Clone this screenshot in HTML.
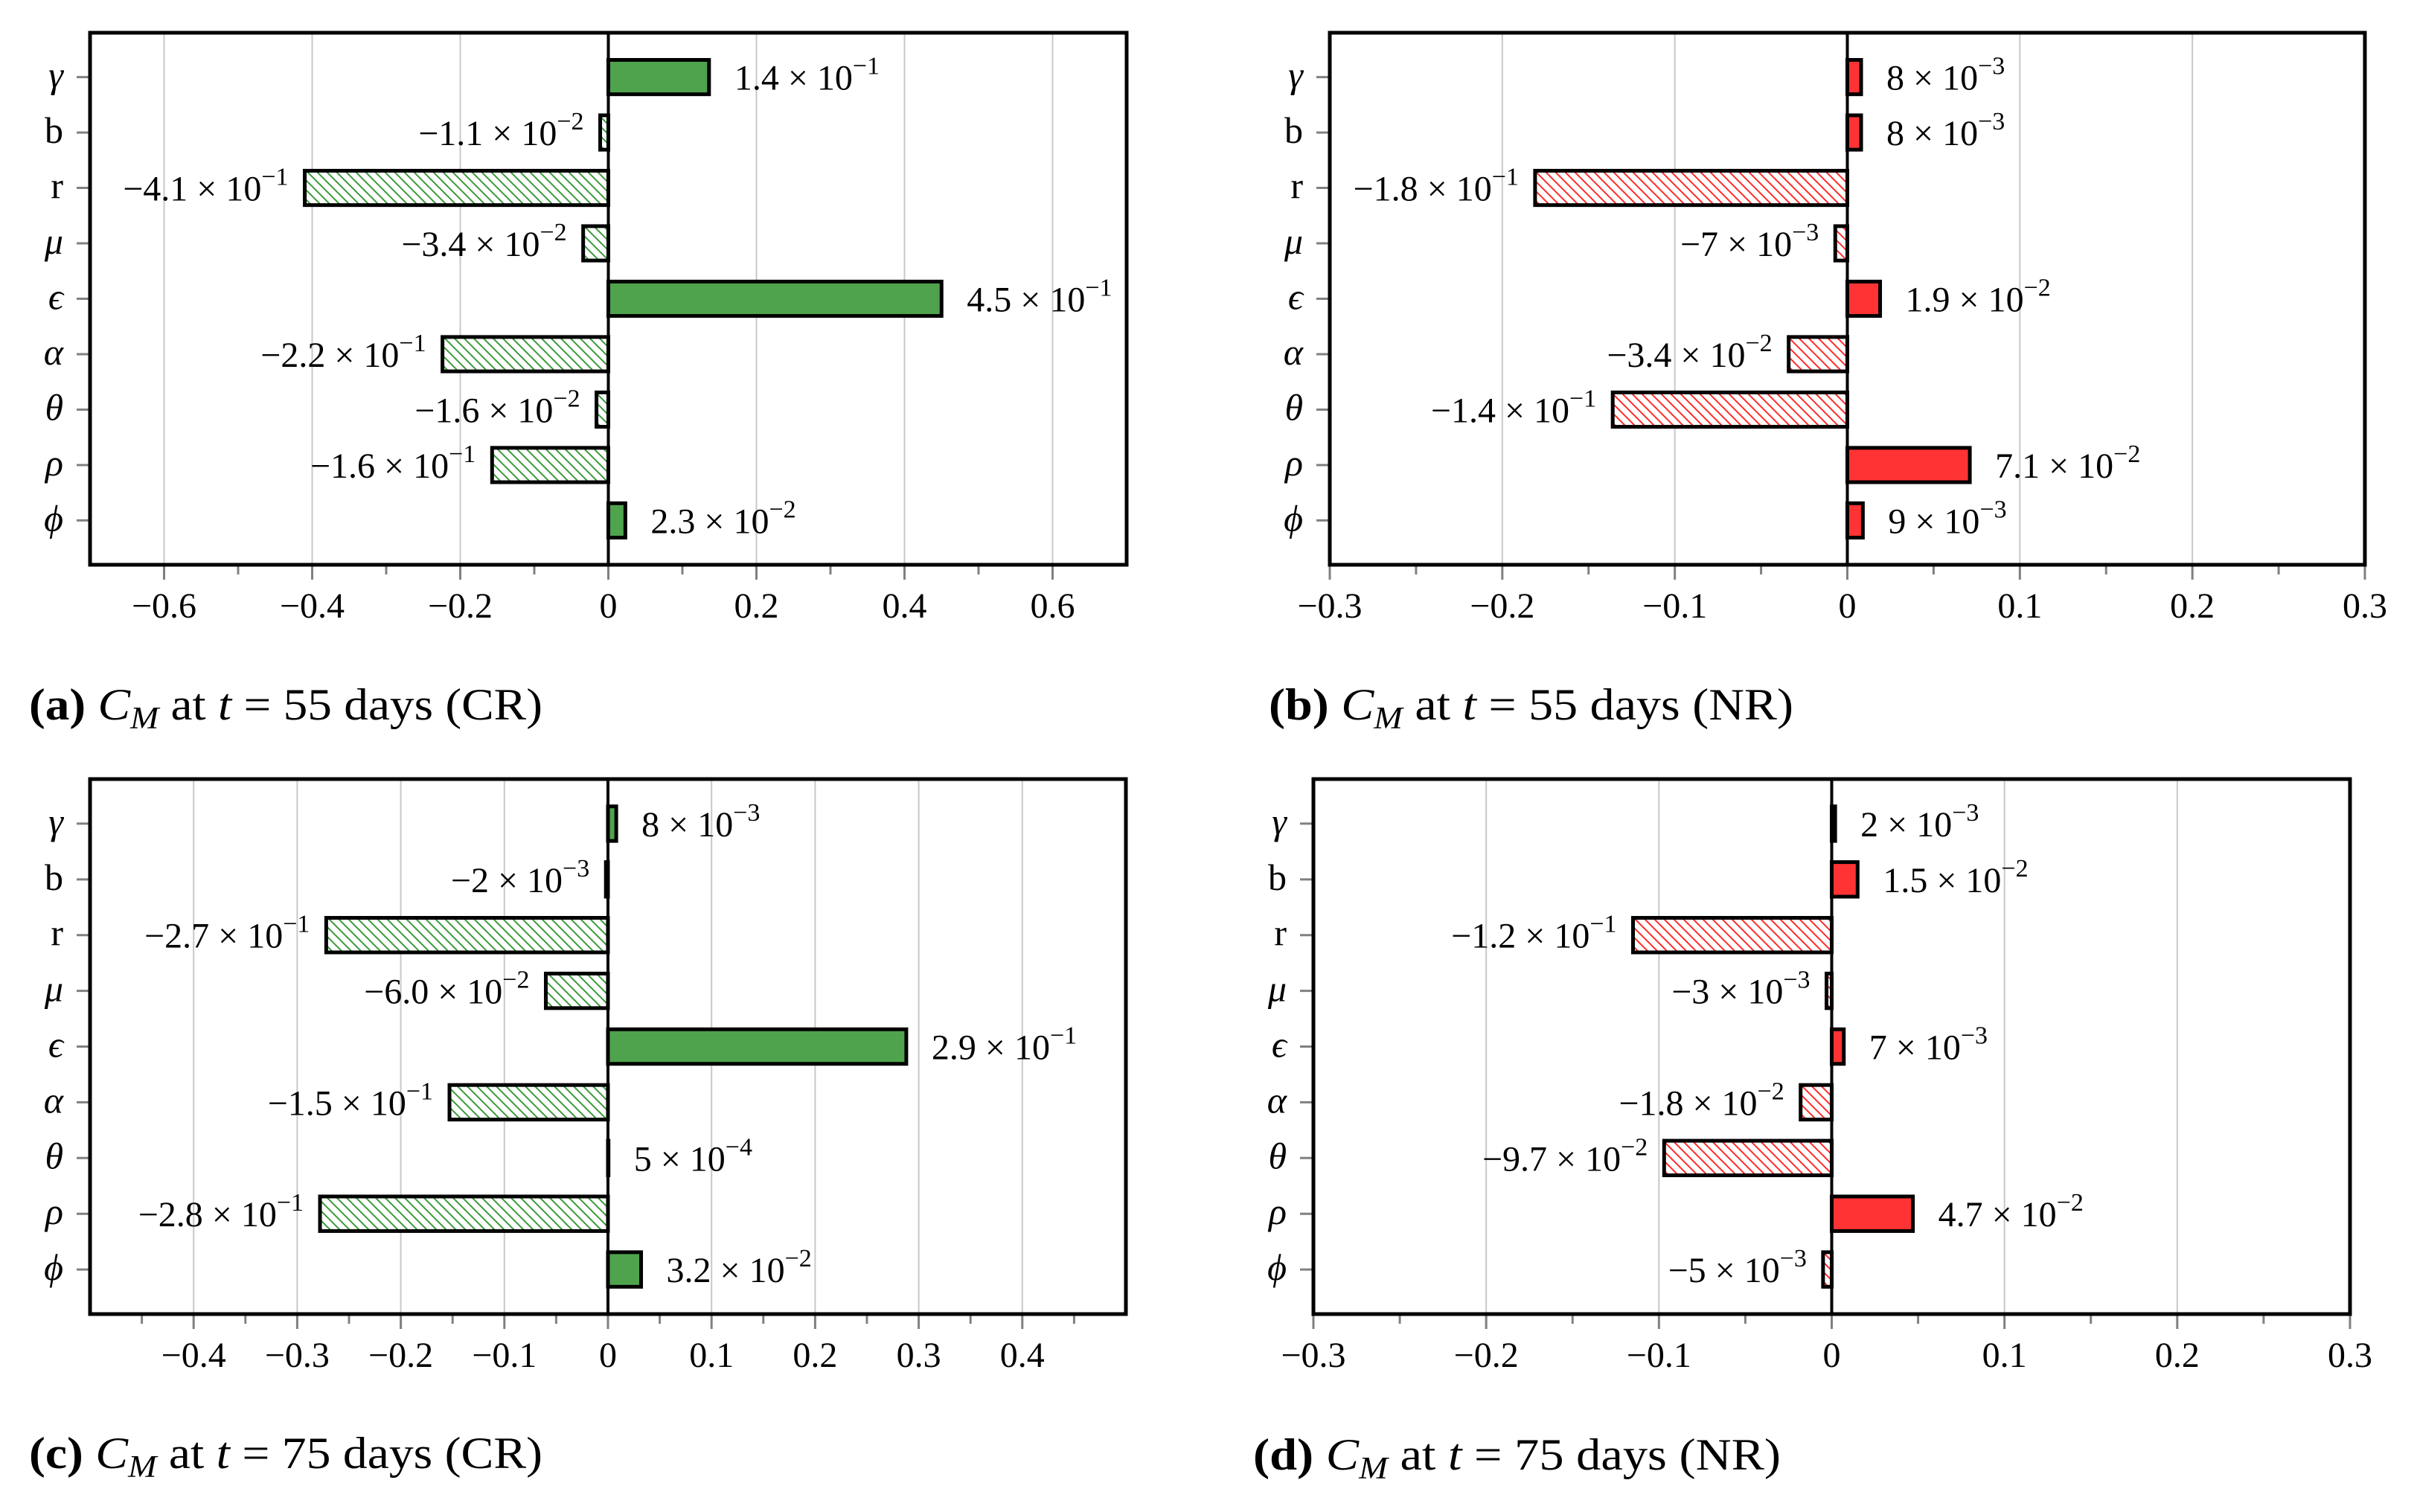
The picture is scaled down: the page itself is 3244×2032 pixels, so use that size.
<!DOCTYPE html>
<html><head><meta charset="utf-8">
<style>
html,body{margin:0;padding:0;background:#fff;}
svg{display:block;}
text{font-family:"Liberation Serif","DejaVu Serif",serif;fill:#000;}
</style></head>
<body>
<svg id="fig" width="3244" height="2032" viewBox="0 0 3244 2032" xmlns="http://www.w3.org/2000/svg">
<defs>
<pattern id="hatch-green" patternUnits="userSpaceOnUse" width="13" height="13">
<rect width="13" height="13" fill="#fff"/>
<path d="M-2,-2 L15,15 M-2,11 L2,15 M11,-2 L15,2" stroke="#3a9a3a" stroke-width="2"/>
</pattern>
<pattern id="hatch-red" patternUnits="userSpaceOnUse" width="13" height="13">
<rect width="13" height="13" fill="#fff"/>
<path d="M-2,-2 L15,15 M-2,11 L2,15 M11,-2 L15,2" stroke="#ff2a2a" stroke-width="2"/>
</pattern>
</defs>
</svg>
<script>
// Shared categories
const categories = ["γ","b","r","μ","ϵ","α","θ","ρ","ϕ"];
const italicCats = [true,false,false,true,true,true,true,true,true];

// Panel (a) C_M t=55 CR
const valuesA = [0.136, -0.011, -0.41, -0.034, 0.45, -0.224, -0.016, -0.157, 0.023];
const mantA = ["1.4","−1.1","−4.1","−3.4","4.5","−2.2","−1.6","−1.6","2.3"];
const expA  = ["−1","−2","−1","−2","−1","−1","−2","−1","−2"];
const ticksA = [-0.6,-0.4,-0.2,0,0.2,0.4,0.6];
const tickLabelsA = ["−0.6","−0.4","−0.2","0","0.2","0.4","0.6"];
const minorA = [-0.5,-0.3,-0.1,0.1,0.3,0.5];

// Panel (b) C_M t=55 NR
const valuesB = [0.008, 0.008, -0.181, -0.007, 0.019, -0.034, -0.136, 0.071, 0.009];
const mantB = ["8","8","−1.8","−7","1.9","−3.4","−1.4","7.1","9"];
const expB  = ["−3","−3","−1","−3","−2","−2","−1","−2","−3"];
const ticksB = [-0.3,-0.2,-0.1,0,0.1,0.2,0.3];
const tickLabelsB = ["−0.3","−0.2","−0.1","0","0.1","0.2","0.3"];
const minorB = [-0.25,-0.15,-0.05,0.05,0.15,0.25];

// Panel (c) C_M t=75 CR
const valuesC = [0.008, -0.002, -0.272, -0.060, 0.288, -0.153, 0.0005, -0.278, 0.032];
const mantC = ["8","−2","−2.7","−6.0","2.9","−1.5","5","−2.8","3.2"];
const expC  = ["−3","−3","−1","−2","−1","−1","−4","−1","−2"];
const ticksC = [-0.4,-0.3,-0.2,-0.1,0,0.1,0.2,0.3,0.4];
const tickLabelsC = ["−0.4","−0.3","−0.2","−0.1","0","0.1","0.2","0.3","0.4"];
const minorC = [-0.45,-0.35,-0.25,-0.15,-0.05,0.05,0.15,0.25,0.35,0.45];

// Panel (d) C_M t=75 NR
const valuesD = [0.002, 0.015, -0.115, -0.003, 0.007, -0.018, -0.097, 0.047, -0.005];
const mantD = ["2","1.5","−1.2","−3","7","−1.8","−9.7","4.7","−5"];
const expD  = ["−3","−2","−1","−3","−3","−2","−2","−2","−3"];
const ticksD = ticksB;
const tickLabelsD = tickLabelsB;
const minorD = minorB;

const NS = "http://www.w3.org/2000/svg";
const svg = document.getElementById("fig");
function mk(tag, attrs, parent){
  const e = document.createElementNS(NS, tag);
  for (const k in attrs) e.setAttribute(k, attrs[k]);
  (parent||svg).appendChild(e);
  return e;
}

function panel(cfg){
  const g = mk("g", {});
  
  
  const {left,right,top,bottom,xmin,xmax} = cfg;
  const xs = v => left + (v - xmin) / (xmax - xmin) * (right - left);
  const n = categories.length;
  const ys = i => top + (i + 0.8) / (n - 1 + 1.6) * (bottom - top);
  const bandPx = (bottom - top) / (n - 1 + 1.6);
  const barH = bandPx * 0.62;

  cfg.ticks.forEach((t,i) => {
    if (t === 0) return;
    const l = mk("line", {x1:xs(t),x2:xs(t),y1:top,y2:bottom,stroke:"#c8c8c8","stroke-width":2}, g);
    
    
  });
  cfg.ticks.forEach((t,i) => {
    const l = mk("line", {x1:xs(t),x2:xs(t),y1:bottom,y2:bottom+20,stroke:"#808080","stroke-width":3}, g);
    
    
    const tx = mk("text", {x:xs(t),y:bottom+71,"font-size":48,"text-anchor":"middle"}, g);
    tx.textContent = cfg.tickLabels[i];
    
    
  });
  cfg.minor.forEach(t => {
    const l = mk("line", {x1:xs(t),x2:xs(t),y1:bottom,y2:bottom+13,stroke:"#808080","stroke-width":3}, g);
    
    
  });
  categories.forEach((c,i) => {
    const y = ys(i);
    const l = mk("line", {x1:left-18,x2:left,y1:y,y2:y,stroke:"#808080","stroke-width":3}, g);
    
    
    const tx = mk("text", {x:left-36,y:y+14,"font-size":50,"text-anchor":"end","font-style":italicCats[i]?"italic":"normal"}, g);
    tx.textContent = c;
    
    
  });
  cfg.values.forEach((v,i) => {
    const y = ys(i);
    const x0 = xs(0), x1 = xs(v);
    const pos = v >= 0;
    const r = mk("rect", {x:Math.min(x0,x1),y:y-barH/2,width:Math.abs(x1-x0),height:barH,
      fill: pos ? cfg.color : cfg.hatch, stroke:"#000","stroke-width":5}, g);
    
    
    const tx = mk("text", {x: pos ? x1+34 : x1-22, y:y+17, "font-size":48, "text-anchor": pos?"start":"end"}, g);
    
    
    const a = mk("tspan", {}, tx); a.textContent = cfg.mant[i] + " × 10";
    const b = mk("tspan", {dy:-21,"font-size":34}, tx); b.textContent = cfg.exp[i];
  });
  const z = mk("line", {x1:xs(0),x2:xs(0),y1:top,y2:bottom,stroke:"#000","stroke-width":4}, g);
  
  
  const f = mk("rect", {x:left,y:top,width:right-left,height:bottom-top,fill:"none",stroke:"#000","stroke-width":5}, g);
  
  
  const cap = mk("text", {x:cfg.capX,y:cfg.capY,"font-size":60,textLength:cfg.capW,lengthAdjust:"spacingAndGlyphs"}, g);
  
  
  const p1 = mk("tspan", {"font-weight":"bold"}, cap); p1.textContent = "(" + cfg.letter + ")";
  const p2 = mk("tspan", {"font-style":"italic"}, cap); p2.textContent = " C";
  const p3 = mk("tspan", {"font-style":"italic","font-size":42,dy:12}, cap); p3.textContent = "M";
  const p4 = mk("tspan", {dy:-12}, cap); p4.textContent = " at ";
  const p5 = mk("tspan", {"font-style":"italic"}, cap); p5.textContent = "t";
  const p6 = mk("tspan", {}, cap); p6.textContent = " = " + cfg.days + " days (" + cfg.kind + ")";
}

panel({name:"panel-a-chart",left:121,right:1514,top:44,bottom:759,xmin:-0.7,xmax:0.7,
  values:valuesA,mant:mantA,exp:expA,ticks:ticksA,tickLabels:tickLabelsA,minor:minorA,
  color:"#4fa34d",hatch:"url(#hatch-green)",letter:"a",days:"55",kind:"CR",capX:39,capY:967,capW:690});
panel({name:"panel-b-chart",left:1787,right:3178,top:44,bottom:759,xmin:-0.3,xmax:0.3,
  values:valuesB,mant:mantB,exp:expB,ticks:ticksB,tickLabels:tickLabelsB,minor:minorB,
  color:"#ff3333",hatch:"url(#hatch-red)",letter:"b",days:"55",kind:"NR",capX:1705,capY:967,capW:705});
panel({name:"panel-c-chart",left:121,right:1513,top:1047,bottom:1766,xmin:-0.5,xmax:0.5,
  values:valuesC,mant:mantC,exp:expC,ticks:ticksC,tickLabels:tickLabelsC,minor:minorC,
  color:"#4fa34d",hatch:"url(#hatch-green)",letter:"c",days:"75",kind:"CR",capX:39,capY:1973,capW:690});
panel({name:"panel-d-chart",left:1765,right:3158,top:1047,bottom:1766,xmin:-0.3,xmax:0.3,
  values:valuesD,mant:mantD,exp:expD,ticks:ticksD,tickLabels:tickLabelsD,minor:minorD,
  color:"#ff3333",hatch:"url(#hatch-red)",letter:"d",days:"75",kind:"NR",capX:1684,capY:1975,capW:709});
</script>
</body></html>
